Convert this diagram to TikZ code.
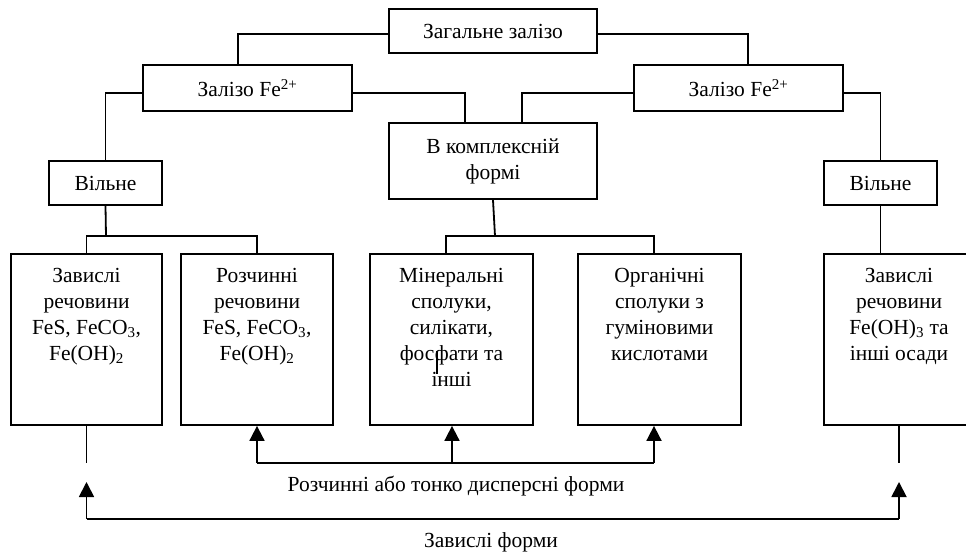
\documentclass[tikz,border=0pt]{standalone}
\usepackage{fontspec}
\setmainfont{Liberation Serif}
\usetikzlibrary{arrows.meta}
\begin{document}
\begin{tikzpicture}[x=1pt,y=-1pt,
  box/.style={draw, line width=1.8pt, inner sep=0pt},
  txt/.style={font=\fontsize{21.5}{26}\selectfont, align=center, inner sep=0pt},
  wire/.style={line width=1.8pt},
  arr/.style={line width=1.8pt, -{Triangle[length=15pt,width=15pt]}},
]
\useasboundingbox (0,0) rectangle (966,553);
% top level
\node[box, minimum width=208pt, minimum height=44pt] (top) at (493,31) {};
\node[txt] (topt) at (493,31) {Загальне залізо};
\node[box, minimum width=209pt, minimum height=46pt] (feL) at (247.5,88) {};
\node[txt] (feLt) at (247.5,88) {Залізо Fe\textsuperscript{2+}};
\node[box, minimum width=209pt, minimum height=46pt] (feR) at (738.5,88) {};
\node[txt] (feRt) at (738.5,88) {Залізо Fe\textsuperscript{2+}};
% second level
\node[box, minimum width=113pt, minimum height=44pt] (vL) at (105.5,183) {};
\node[txt] (vLt) at (105.5,183) {Вільне};
\node[box, minimum width=113pt, minimum height=44pt] (vR) at (880.5,183) {};
\node[txt] (vRt) at (880.5,183) {Вільне};
\node[box, minimum width=208pt, minimum height=76pt] (cx) at (493,161) {};
\node[txt] (cxt) at (493,161) {В комплексній\\формі};
% bottom boxes
\node[box, minimum width=151pt, minimum height=171pt] (b1) at (86.5,339.5) {};
\node[box, minimum width=152pt, minimum height=171pt] (b2) at (257,339.5) {};
\node[box, minimum width=163pt, minimum height=171pt] (b3) at (451.5,339.5) {};
\node[box, minimum width=163pt, minimum height=171pt] (b4) at (659.5,339.5) {};
\node[box, minimum width=152pt, minimum height=171pt] (b5) at (900,339.5) {};
\node[txt, anchor=north] (b1t) at ([yshift=-15pt]b1.north) {Завислі\\речовини\\FeS, FeCO\textsubscript{3},\\Fe(OH)\textsubscript{2}};
\node[txt, anchor=north] (b2t) at ([yshift=-15pt]b2.north) {Розчинні\\речовини\\FeS, FeCO\textsubscript{3},\\Fe(OH)\textsubscript{2}};
\node[txt, anchor=north] (b3t) at ([yshift=-15pt]b3.north) {Мінеральні\\сполуки,\\силікати,\\фосфати та\\інші};
\node[txt, anchor=north] (b4t) at ([yshift=-15pt]b4.north) {Органічні\\сполуки з\\гуміновими\\кислотами};
\node[txt, anchor=north] (b5t) at ([yshift=-15pt, xshift=-1pt]b5.north) {Завислі\\речовини\\Fe(OH)\textsubscript{3} та\\інші осади};
% cursor artifact
\draw[line width=2.8pt] (437,351) -- (437,374);
% tree connectors
\draw[wire] ([yshift=-3pt]top.west) -| ([xshift=-9.5pt]feL.north);
\draw[wire] ([yshift=-3pt]top.east) -| ([xshift=9.5pt]feR.north);
\draw[wire] ([yshift=-5pt]feL.west) -| (vL.north);
\draw[wire] ([yshift=-5pt]feL.east) -| ([xshift=-28pt]cx.north);
\draw[wire] ([yshift=-5pt]feR.west) -| ([xshift=29pt]cx.north);
\draw[wire] ([yshift=-5pt]feR.east) -| (vR.north);
\coordinate (jL) at (106,236);
\coordinate (jC) at (495,236);
\draw[wire] (vL.south) -- (jL);
\draw[wire] (b1.north) |- (jL) -| (b2.north);
\draw[wire] (cx.south) -- (jC);
\draw[wire] ([xshift=-5.5pt]b3.north) |- (jC) -| ([xshift=-5.5pt]b4.north);
\draw[wire] (vR.south) -- (vR.south |- b5.north);
% lower arrows: soluble
\coordinate (r1) at (257,463);
\coordinate (r2) at (452,463);
\coordinate (r3) at (654,463);
\draw[wire] (r1) -- (r3);
\draw[arr] (r1) -- (b2.south);
\draw[arr] (r2) -- (r2 |- b3.south);
\draw[arr] (r3) -- (r3 |- b4.south);
\node[txt] (lab1) at (456,486) {Розчинні або тонко дисперсні форми};
% suspended
\coordinate (u1) at (86.5,463);
\coordinate (u5) at (899,463);
\draw[wire] (b1.south) -- (u1);
\draw[wire] (u5 |- b5.south) -- (u5);
\coordinate (t1) at (86.5,482);
\coordinate (t2) at (899,482);
\coordinate (s1) at (86.5,519);
\coordinate (s2) at (899,519);
\draw[wire] (s1) -- (s2);
\draw[arr] (s1) -- (t1);
\draw[arr] (s2) -- (t2);
\node[txt] (lab2) at (491,542) {Завислі форми};
\end{tikzpicture}
\end{document}
